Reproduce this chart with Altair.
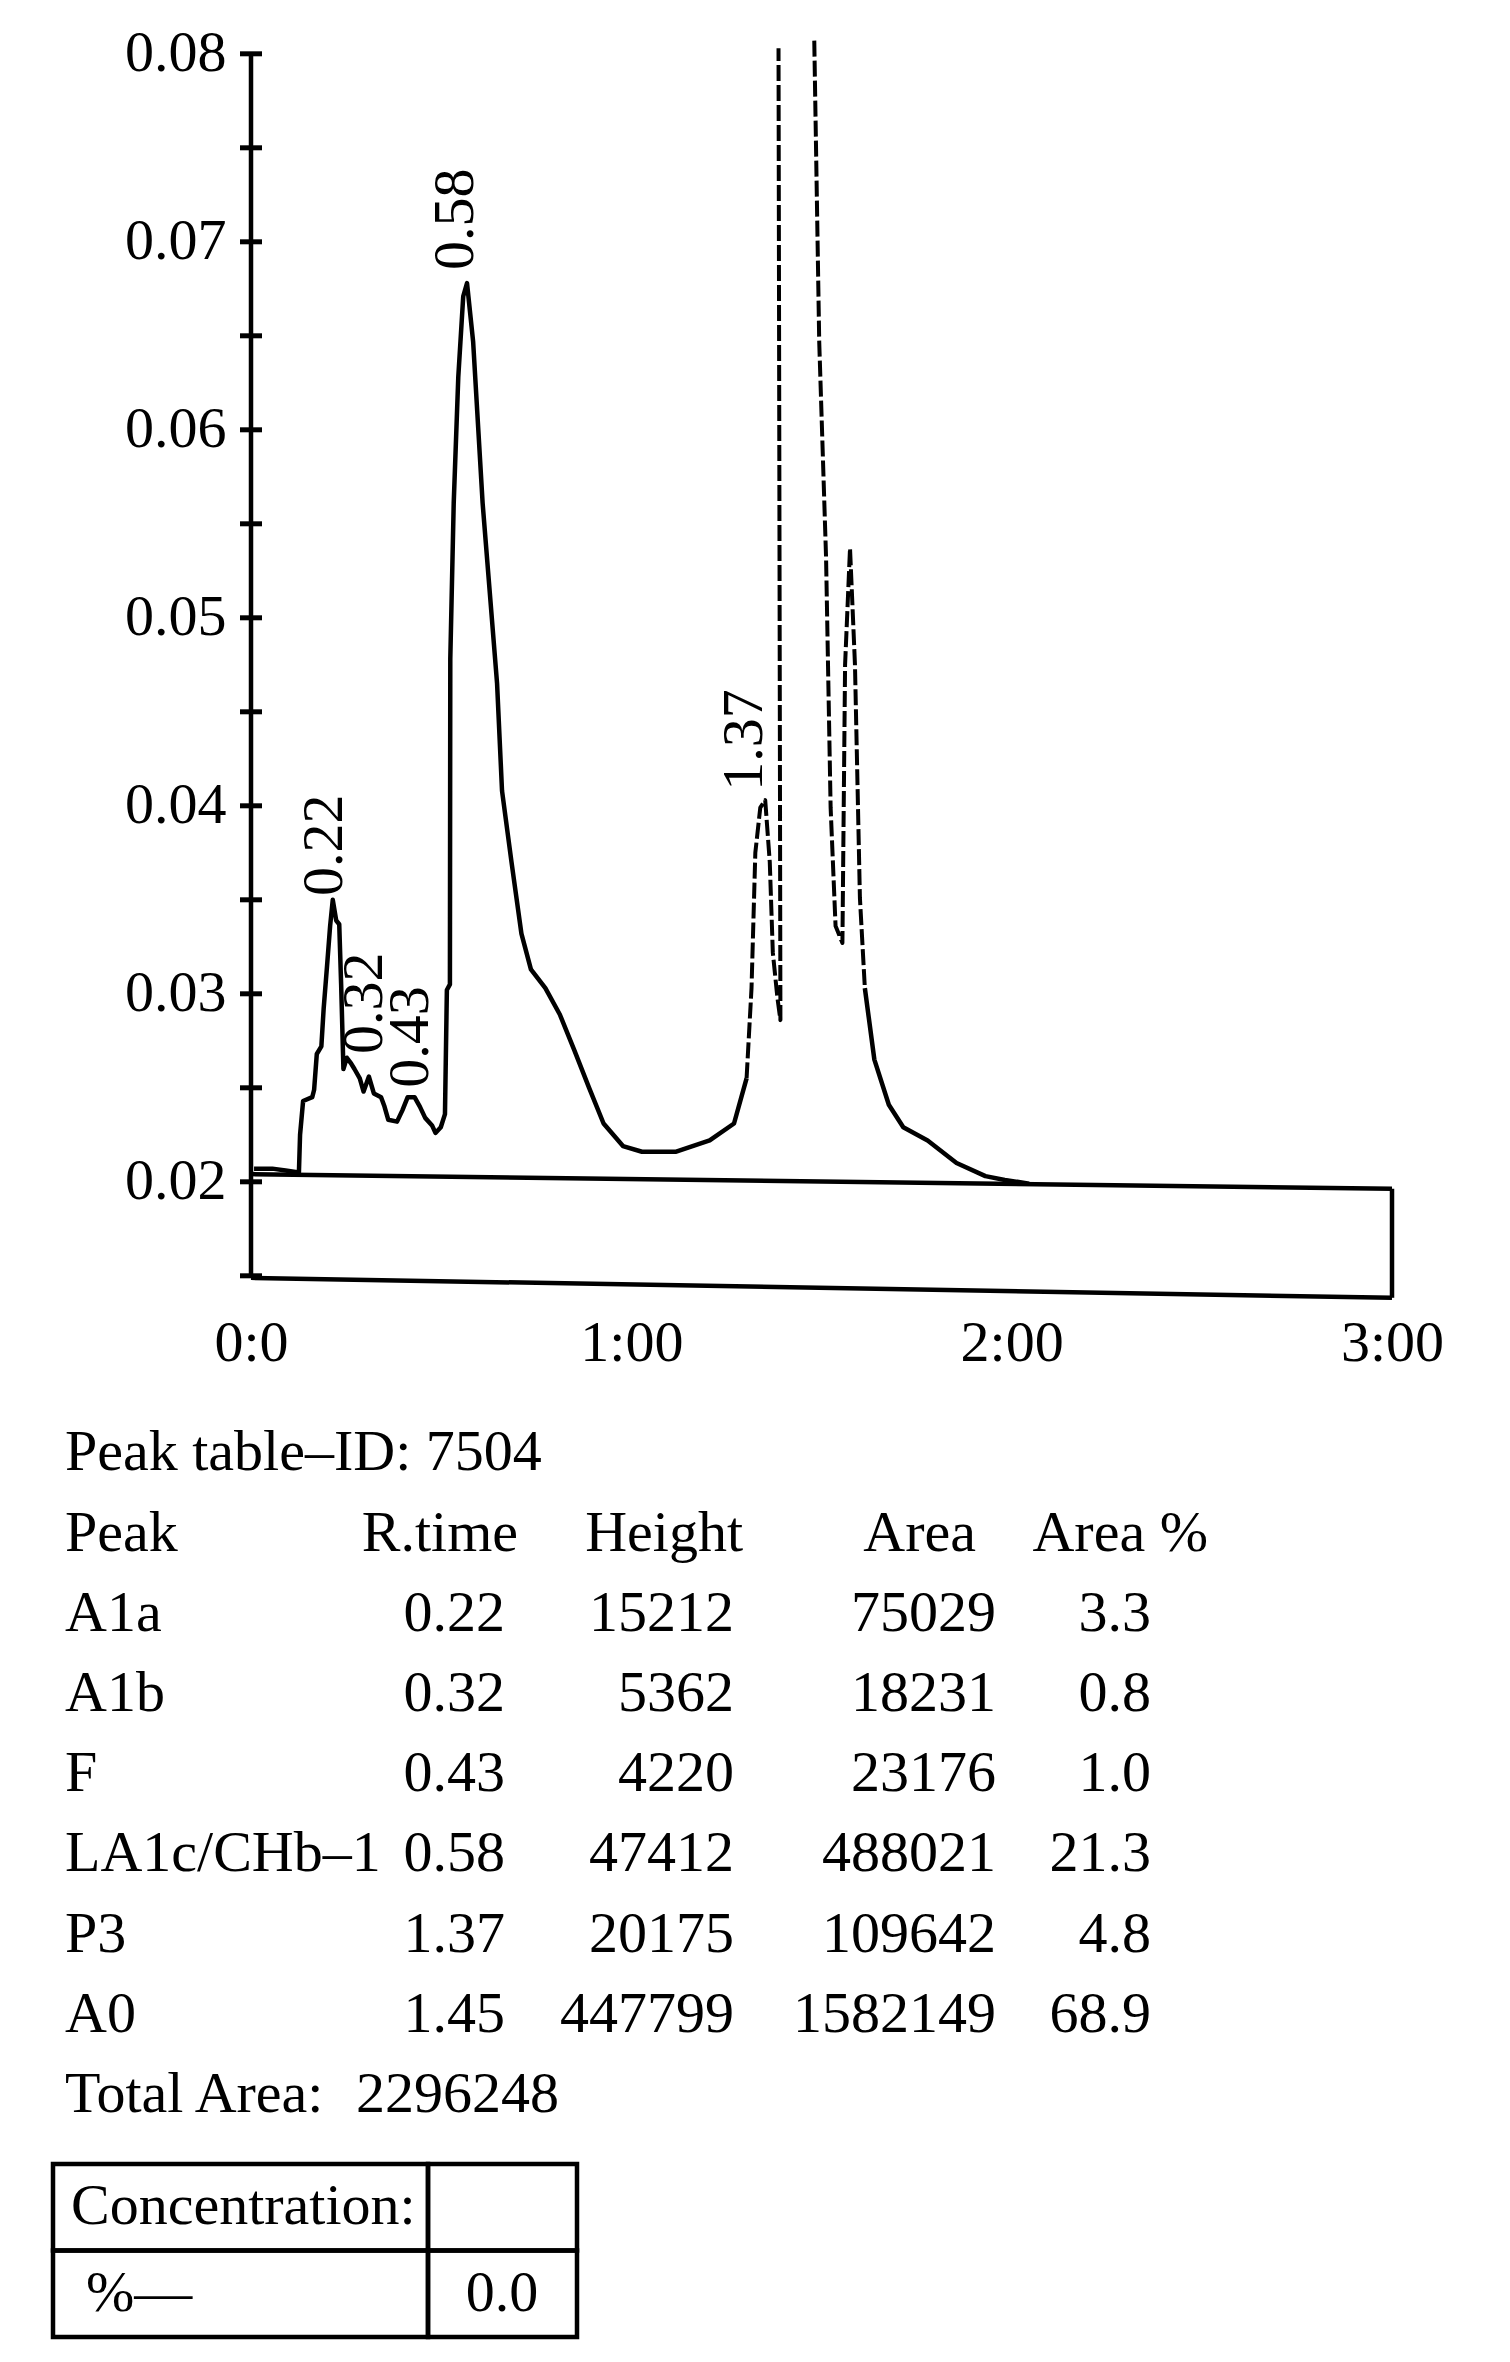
import altair as alt
import pandas as pd

# ---------------- values ----------------
# chromatogram trace: retention time (min) and absorbance, in four drawn pieces
s1_t = [0.008, 0.056, 0.091, 0.126, 0.129, 0.137, 0.161, 0.166, 0.173, 0.185, 0.191, 0.200,
        0.208, 0.215, 0.224, 0.232, 0.237, 0.243, 0.252, 0.263, 0.272, 0.286, 0.296, 0.310,
        0.323, 0.342, 0.351, 0.361, 0.384, 0.398, 0.412, 0.430, 0.444, 0.458, 0.476, 0.485,
        0.499, 0.510, 0.515, 0.523, 0.524, 0.533, 0.545, 0.558, 0.568, 0.584, 0.609, 0.647,
        0.660, 0.685, 0.711, 0.736, 0.774, 0.812, 0.850, 0.889, 0.927, 0.978, 1.028, 1.118,
        1.206, 1.270, 1.303]
s1_v = [0.0207, 0.0207, 0.0206, 0.0205, 0.0225, 0.0243, 0.0245, 0.0249, 0.0268, 0.0272, 0.0292, 0.0315,
        0.0336, 0.0350, 0.0339, 0.0337, 0.0305, 0.0260, 0.0266, 0.0263, 0.0260, 0.0255, 0.0248, 0.0256,
        0.0247, 0.0245, 0.0240, 0.0233, 0.0232, 0.0238, 0.0245, 0.0245, 0.0240, 0.0234, 0.0230, 0.0226,
        0.0229, 0.0236, 0.0302, 0.0305, 0.0478, 0.0561, 0.0628, 0.0671, 0.0678, 0.0647, 0.0561, 0.0465,
        0.0408, 0.0370, 0.0332, 0.0313, 0.0303, 0.0289, 0.0270, 0.0250, 0.0231, 0.0219, 0.0216, 0.0216,
        0.0222, 0.0231, 0.0255]
s2_t = [1.303, 1.316, 1.326, 1.339, 1.352, 1.364, 1.372, 1.384, 1.392, 1.387]
s2_v = [0.0255, 0.0303, 0.0375, 0.0399, 0.0403, 0.0370, 0.0322, 0.0298, 0.0286, 0.0803]
s3_t = [1.481, 1.494, 1.512, 1.524, 1.537, 1.555, 1.562, 1.575, 1.588, 1.601, 1.614]
s3_v = [0.0807, 0.0647, 0.0532, 0.0399, 0.0336, 0.0327, 0.0475, 0.0537, 0.0475, 0.0351, 0.0303]
s4_t = [1.614, 1.639, 1.677, 1.715, 1.779, 1.855, 1.931, 1.982, 2.046]
s4_v = [0.0303, 0.0265, 0.0241, 0.0229, 0.0222, 0.0210, 0.0203, 0.0201, 0.0199]

# frame lines: integration baseline, lower border, right border, y axis
frame_x1 = [0, 0, 3, 0]
frame_y1 = [0.02041, 0.01489, 0.01963, 0.01489]
frame_x2 = [3, 3, 3, 0]
frame_y2 = [0.01963, 0.01383, 0.01383, 0.08]

y_tick_values = [0.015, 0.02, 0.025, 0.03, 0.035, 0.04, 0.045, 0.05, 0.055, 0.06, 0.065, 0.07, 0.075, 0.08]
y_label_values = [0.02, 0.03, 0.04, 0.05, 0.06, 0.07, 0.08]
x_label_values = [0, 1, 2, 3]

peak_labels = ["0.22", "0.32", "0.43", "0.58", "1.37"]
peak_label_t = [0.195, 0.300, 0.421, 0.539, 1.299]
peak_label_v = [0.0352, 0.0268, 0.0250, 0.0685, 0.0408]

table_title = "Peak table–ID: 7504"
headers = ["Peak", "R.time", "Height", "Area", "Area %"]
peaks = ["A1a", "A1b", "F", "LA1c/CHb–1", "P3", "A0"]
rtimes = [0.22, 0.32, 0.43, 0.58, 1.37, 1.45]
heights = [15212, 5362, 4220, 47412, 20175, 447799]
areas = [75029, 18231, 23176, 488021, 109642, 1582149]
area_pct = [3.3, 0.8, 1.0, 21.3, 4.8, 68.9]
total_area = 2296248
conc_labels = ["Concentration:", "%—"]
conc_value = 0.0

# ---------------- tables for the library ----------------
rows = []
idx = 0
for seg, ts, vs, style in [("s1", s1_t, s1_v, "solid"), ("s2", s2_t, s2_v, "dash"),
                           ("s3", s3_t, s3_v, "dash"), ("s4", s4_t, s4_v, "solid")]:
    for t, v in zip(ts, vs):
        rows.append({"t": t, "v": v, "seg": seg, "style": style, "idx": idx})
        idx += 1
trace = pd.DataFrame(rows)
frame_df = pd.DataFrame({"x1": frame_x1, "y1": frame_y1, "x2": frame_x2, "y2": frame_y2})
tick_df = pd.DataFrame({"yt": y_tick_values})
lab_df = pd.DataFrame({"lab": peak_labels, "lt": peak_label_t, "lv": peak_label_v})

FONT = "Liberation Serif"
W, H = 1141, 1269

xs = alt.Scale(domain=[0, 3], nice=False, zero=False)
ys = alt.Scale(domain=[0.0135, 0.081], nice=False, zero=False)
xax = alt.Axis(values=x_label_values, labelExpr="datum.value == 0 ? '0:0' : datum.value + ':00'",
               title=None, domain=False, ticks=False, tickSize=0, grid=False, labelPadding=10,
               labelFont=FONT, labelFontSize=58, labelColor="black", labelFlush=False,
               labelOverlap=False)
yax = alt.Axis(values=y_label_values, format=".2f", title=None, domain=False, ticks=False,
               tickSize=0, grid=False, labelPadding=25, labelFont=FONT, labelFontSize=58,
               labelColor="black", labelOverlap=False)


def X(f):
    return alt.X(f, scale=xs, axis=xax)


def Y(f):
    return alt.Y(f, scale=ys, axis=yax)


frame = alt.Chart(frame_df).mark_rule(color="black", strokeWidth=4.5).encode(
    x=X("x1:Q"), x2="x2:Q", y=Y("y1:Q"), y2="y2:Q")
solid = alt.Chart(trace).transform_filter("datum.style == 'solid'").mark_line(
    color="black", strokeWidth=4.5, strokeJoin="round").encode(
    x=X("t:Q"), y=Y("v:Q"), detail="seg:N", order="idx:Q")
dashed = alt.Chart(trace).transform_filter("datum.style == 'dash'").mark_line(
    color="black", strokeWidth=4, strokeDash=[16, 4], strokeJoin="round").encode(
    x=X("t:Q"), y=Y("v:Q"), detail="seg:N", order="idx:Q")
ticks = alt.Chart(tick_df).mark_rule(color="black", strokeWidth=5).encode(
    y=Y("yt:Q"), x=alt.value(-11), x2=alt.value(11))
labels = alt.Chart(lab_df).mark_text(angle=270, align="left", baseline="middle", font=FONT,
                                     fontSize=58, color="black").encode(
    x=X("lt:Q"), y=Y("lv:Q"), text="lab:N")
plot = alt.layer(frame, solid, dashed, ticks, labels).properties(width=W, height=H)

# ---------------- peak table ----------------
row_order = ["title", "header"] + peaks + ["total"]
cells = [("title", "name", table_title)]
for c, h in zip(["name", "h_rt", "h_height", "h_area", "h_pct"], headers):
    cells.append(("header", c, h))
for p, rt, hg, ar, pc in zip(peaks, rtimes, heights, areas, area_pct):
    cells += [(p, "name", p), (p, "rt", f"{rt:.2f}"), (p, "height", str(hg)),
              (p, "area", str(ar)), (p, "pct", f"{pc:.1f}")]
cells += [("total", "name", "Total Area:"), ("total", "total", str(total_area))]
cell_df = pd.DataFrame(cells, columns=["row", "col", "text"])

col_layout = {"name": (-186, "left"), "rt": (254, "right"), "height": (483, "right"),
              "area": (745, "right"), "pct": (900, "right"), "h_rt": (267, "right"),
              "h_height": (492, "right"), "h_area": (725, "right"), "h_pct": (957, "right"),
              "total": (105, "left")}
ty = alt.Y("row:N", scale=alt.Scale(type="point", domain=row_order, padding=1.004, align=0.75),
           axis=None)
tlayers = []
for c, (xp, al) in col_layout.items():
    tlayers.append(alt.Chart(cell_df).transform_filter(alt.datum.col == c).mark_text(
        align=al, baseline="middle", font=FONT, fontSize=58, color="black").encode(
        x=alt.value(xp), y=ty, text="text:N"))
table = alt.layer(*tlayers).properties(width=W, height=802)

# ---------------- concentration box ----------------
box_rows = ["conc", "pct"]
box_df = pd.DataFrame({"row": box_rows})
by = alt.Y("row:N", scale=alt.Scale(type="band", domain=box_rows, paddingInner=0, paddingOuter=0),
           axis=None)
cellA = alt.Chart(box_df).mark_rect(filled=False, color="black", strokeWidth=4.5).encode(
    x=alt.value(-198), x2=alt.value(177), y=by)
cellB = alt.Chart(box_df).mark_rect(filled=False, color="black", strokeWidth=4.5).encode(
    x=alt.value(177), x2=alt.value(326), y=by)
box_text = pd.DataFrame({"row": ["conc", "pct", "pct"], "col": ["label1", "label2", "value"],
                         "text": [conc_labels[0], conc_labels[1], f"{conc_value:.1f}"]})
box_layout = {"label1": (-180, "left"), "label2": (-165, "left"), "value": (251, "center")}
blayers = [cellA, cellB]
for c, (xp, al) in box_layout.items():
    blayers.append(alt.Chart(box_text).transform_filter(alt.datum.col == c).mark_text(
        align=al, baseline="middle", font=FONT, fontSize=58, color="black").encode(
        x=alt.value(xp), y=by, text="text:N"))
box = alt.layer(*blayers).properties(width=330, height=173)

chart = alt.vconcat(plot, table, box, spacing=29, bounds="flush").properties(
    padding={"left": 42, "top": 16, "right": 10, "bottom": 5}
).configure_view(stroke=None)

chart.save("out.html", embed_options={"renderer": "svg", "actions": False})
